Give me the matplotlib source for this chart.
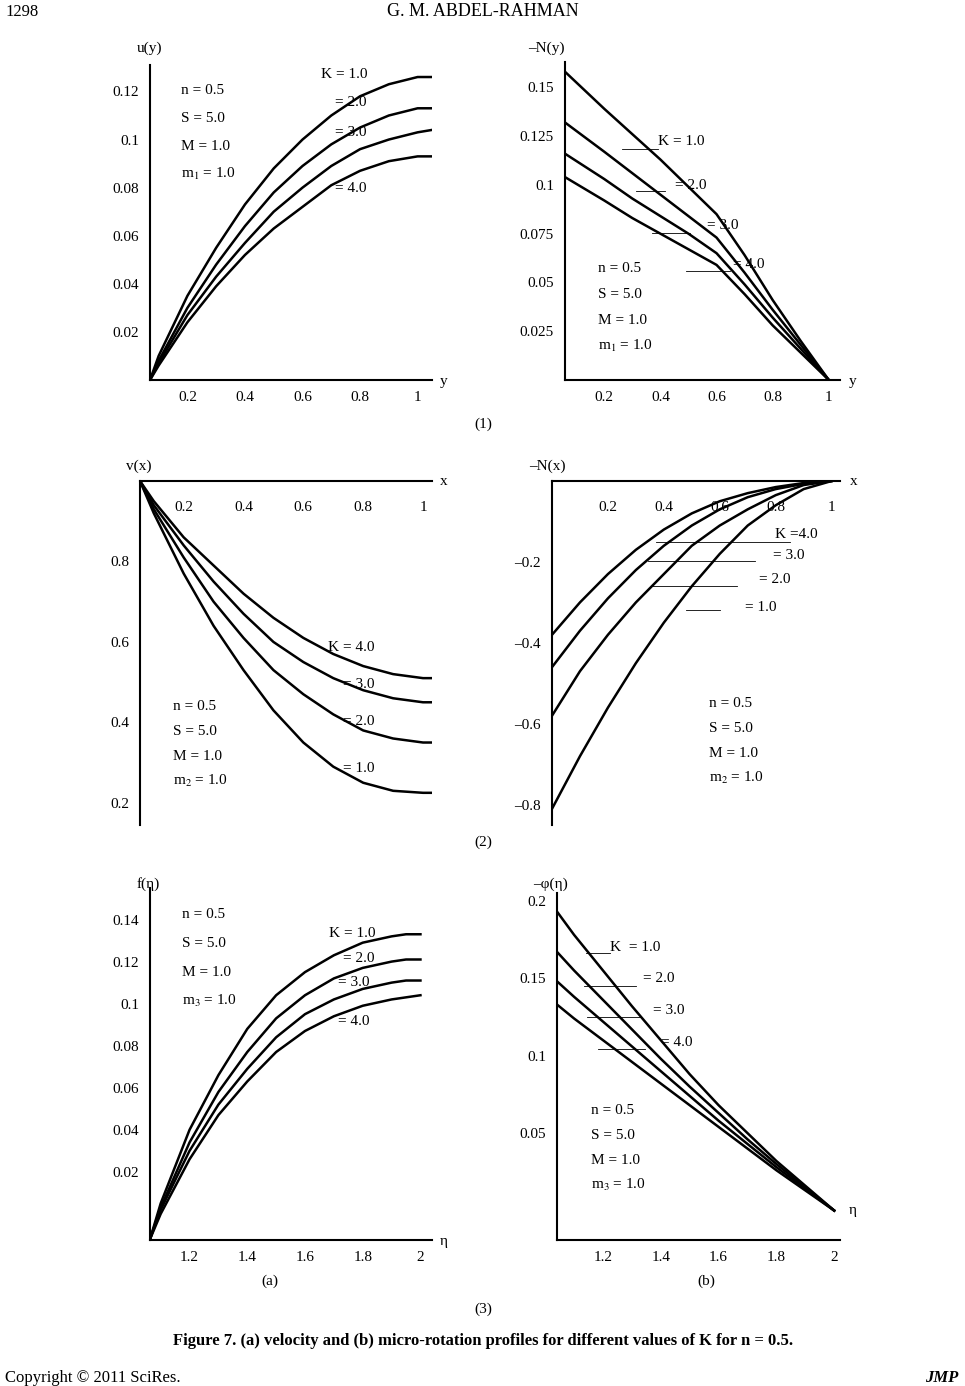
import numpy as np
import matplotlib
matplotlib.use("Agg")
import matplotlib.pyplot as plt
from matplotlib.lines import Line2D

plt.rcParams['font.family'] = ['Liberation Serif', 'DejaVu Serif']
plt.rcParams['mathtext.fontset'] = 'stix'

W, H = 965, 1386

# ---- data ----
x1a = [0.07, 0.1, 0.2, 0.3, 0.4, 0.5, 0.6, 0.7, 0.8, 0.9, 1.0, 1.05]
u_k = {
    "1": [0, 0.010, 0.035, 0.055, 0.073, 0.088, 0.100, 0.110, 0.118, 0.123, 0.126, 0.126],
    "2": [0, 0.008, 0.030, 0.048, 0.064, 0.078, 0.089, 0.098, 0.105, 0.110, 0.113, 0.113],
    "3": [0, 0.007, 0.027, 0.043, 0.057, 0.070, 0.080, 0.089, 0.096, 0.100, 0.103, 0.104],
    "4": [0, 0.006, 0.024, 0.039, 0.052, 0.063, 0.072, 0.081, 0.087, 0.091, 0.093, 0.093],
}
x1b = [0.06, 0.2, 0.3, 0.4, 0.5, 0.6, 0.7, 0.8, 0.9, 1.0]
Ny_k = {
    "1": [.158, .139, .126, .113, .099, .085, .064, .041, .020, 0],
    "2": [.132, .117, .106, .095, .084, .073, .055, .036, .018, 0],
    "3": [.116, .103, .093, .084, .075, .065, .049, .032, .016, 0],
    "4": [.104, .092, .083, .075, .067, .059, .044, .028, .014, 0],
}
x2a = [0.054, 0.1, 0.2, 0.3, 0.4, 0.5, 0.6, 0.7, 0.8, 0.9, 1.0, 1.03]
v_k = {
    "4": [1.0, 0.95, 0.86, 0.79, 0.72, 0.66, 0.61, 0.57, 0.54, 0.52, 0.51, 0.51],
    "3": [1.0, 0.94, 0.84, 0.75, 0.67, 0.60, 0.55, 0.51, 0.48, 0.46, 0.45, 0.45],
    "2": [1.0, 0.93, 0.81, 0.70, 0.61, 0.53, 0.47, 0.42, 0.38, 0.36, 0.35, 0.35],
    "1": [1.0, 0.92, 0.77, 0.64, 0.53, 0.43, 0.35, 0.29, 0.25, 0.23, 0.225, 0.225],
}
x2b = [0, 0.1, 0.2, 0.3, 0.4, 0.5, 0.6, 0.7, 0.8, 0.9, 1.0]
Nx_k = {
    "4": [-0.38, -0.30, -0.23, -0.17, -0.12, -0.08, -0.05, -0.03, -0.015, -0.005, 0],
    "3": [-0.46, -0.37, -0.29, -0.22, -0.16, -0.11, -0.07, -0.04, -0.02, -0.007, 0],
    "2": [-0.58, -0.47, -0.38, -0.30, -0.23, -0.16, -0.11, -0.07, -0.035, -0.01, 0],
    "1": [-0.81, -0.68, -0.56, -0.45, -0.35, -0.26, -0.18, -0.11, -0.06, -0.02, 0],
}
x3a = [1.063, 1.1, 1.2, 1.3, 1.4, 1.5, 1.6, 1.7, 1.8, 1.9, 1.95, 2.0]
f_k = {
    "1": [-0.012, 0.005, 0.040, 0.066, 0.088, 0.104, 0.115, 0.123, 0.129, 0.132, 0.133, 0.133],
    "2": [-0.012, 0.003, 0.034, 0.058, 0.077, 0.093, 0.104, 0.112, 0.117, 0.120, 0.121, 0.121],
    "3": [-0.012, 0.002, 0.030, 0.052, 0.069, 0.084, 0.095, 0.102, 0.107, 0.110, 0.111, 0.111],
    "4": [-0.012, 0.000, 0.026, 0.047, 0.063, 0.077, 0.087, 0.094, 0.099, 0.102, 0.103, 0.104],
}
x3b = [1.041, 1.1, 1.2, 1.3, 1.4, 1.5, 1.6, 1.7, 1.8, 1.9, 2.0]
phi_k = {
    "1": [.193, .178, .155, .132, .110, .088, .068, .050, .032, .016, 0.0],
    "2": [.167, .155, .136, .117, .098, .080, .063, .046, .030, .015, 0.0],
    "3": [.148, .138, .122, .106, .090, .074, .058, .043, .028, .014, 0.0],
    "4": [.133, .124, .110, .096, .082, .068, .054, .040, .026, .013, 0.0],
}

fig = plt.figure(figsize=(W / 100, H / 100), dpi=100)


def fx(x):
    return x / W


def fy(y):
    return 1 - y / H


def txt(x, y, s, **kw):
    kw.setdefault("fontsize", 11)
    fig.text(fx(x), fy(y), s, **kw)


def seg(x0, y0, x1, y1):
    fig.add_artist(Line2D([fx(x0), fx(x1)], [fy(y0), fy(y1)], color="black", lw=0.6))


def panel(l, t, r, b, xlim, ylim, xticks, xtl, yticks, ytl, top=False):
    ax = fig.add_axes([fx(l), fy(b), (r - l) / W, (b - t) / H])
    ax.set_xlim(xlim)
    ax.set_ylim(ylim)
    for s in ["right", "top" if not top else "bottom"]:
        ax.spines[s].set_visible(False)
    if top:
        ax.spines["top"].set_visible(True)
    for s in ax.spines.values():
        s.set_linewidth(1.5)
    ax.set_xticks(xticks)
    ax.set_xticklabels(xtl)
    ax.set_yticks(yticks)
    ax.set_yticklabels(ytl)
    ax.tick_params(length=0, labelsize=11, pad=8)
    if top:
        ax.tick_params(axis="x", top=True, labeltop=True, bottom=False,
                       labelbottom=False, pad=-24)
    return ax


params = ["n = 0.5", "S = 5.0", "M = 1.0"]

# ---- (1a) ----
ax = panel(150, 65, 432, 380, (0.07, 1.05), (0, 0.131),
           [0.2, 0.4, 0.6, 0.8, 1.0], ["0.2", "0.4", "0.6", "0.8", "1"],
           [0.02, 0.04, 0.06, 0.08, 0.1, 0.12], ["0.02", "0.04", "0.06", "0.08", "0.1", "0.12"])
for k in u_k:
    ax.plot(x1a, u_k[k], color="black", lw=1.8)
txt(137, 52, "u(y)")
txt(440, 385, "y")
for i, s in enumerate(params + ["m$_1$ = 1.0"]):
    txt(181, 94 + 28 * i, s)
txt(321, 78, "K = 1.0"); txt(335, 106, "= 2.0"); txt(335, 136, "= 3.0"); txt(335, 192, "= 4.0")

# ---- (1b) ----
ax = panel(565, 62, 840, 380, (0.06, 1.04), (0, 0.163),
           [0.2, 0.4, 0.6, 0.8, 1.0], ["0.2", "0.4", "0.6", "0.8", "1"],
           [0.025, 0.05, 0.075, 0.1, 0.125, 0.15], ["0.025", "0.05", "0.075", "0.1", "0.125", "0.15"])
for k in Ny_k:
    ax.plot(x1b, Ny_k[k], color="black", lw=1.8)
txt(528, 52, "–N(y)")
txt(849, 385, "y")
for i, s in enumerate(params + ["m$_1$ = 1.0"]):
    txt(598, 272 + 26 * i, s)
txt(658, 145, "K = 1.0"); seg(622, 149, 658, 149)
txt(675, 189, "= 2.0"); seg(636, 191, 665, 191)
txt(707, 229, "= 3.0"); seg(652, 233, 690, 233)
txt(733, 268, "= 4.0"); seg(686, 271, 730, 271)

# ---- (2a) ----
ax = panel(140, 481, 432, 825, (0.054, 1.03), (0.145, 1.0),
           [0.2, 0.4, 0.6, 0.8, 1.0], ["0.2", "0.4", "0.6", "0.8", "1"],
           [0.2, 0.4, 0.6, 0.8], ["0.2", "0.4", "0.6", "0.8"], top=True)
for k in v_k:
    ax.plot(x2a, v_k[k], color="black", lw=1.8)
txt(126, 470, "v(x)")
txt(440, 485, "x")
for i, s in enumerate(params + ["m$_2$ = 1.0"]):
    txt(173, 710 + 25 * i, s)
txt(328, 651, "K = 4.0"); txt(343, 688, "= 3.0"); txt(343, 725, "= 2.0"); txt(343, 772, "= 1.0")

# ---- (2b) ----
ax = panel(552, 481, 840, 825, (0, 1.03), (-0.85, 0),
           [0.2, 0.4, 0.6, 0.8, 1.0], ["0.2", "0.4", "0.6", "0.8", "1"],
           [-0.8, -0.6, -0.4, -0.2], ["–0.8", "–0.6", "–0.4", "–0.2"], top=True)
for k in Nx_k:
    ax.plot(x2b, Nx_k[k], color="black", lw=1.8)
txt(529, 470, "–N(x)")
txt(850, 485, "x")
for i, s in enumerate(params + ["m$_2$ = 1.0"]):
    txt(709, 707 + 25 * i, s)
txt(775, 538, "K =4.0"); seg(656, 542, 790, 542)
txt(773, 559, "= 3.0"); seg(648, 561, 755, 561)
txt(759, 583, "= 2.0"); seg(651, 586, 737, 586)
txt(745, 611, "= 1.0"); seg(686, 610, 720, 610)

# ---- (3a) ----
ax = panel(150, 888, 432, 1240, (1.063, 2.04), (-0.0124, 0.155),
           [1.2, 1.4, 1.6, 1.8, 2.0], ["1.2", "1.4", "1.6", "1.8", "2"],
           [0.02, 0.04, 0.06, 0.08, 0.1, 0.12, 0.14],
           ["0.02", "0.04", "0.06", "0.08", "0.1", "0.12", "0.14"])
for k in f_k:
    ax.plot(x3a, f_k[k], color="black", lw=1.8)
txt(137, 888, "f(η)")
txt(440, 1245, "η")
for i, s in enumerate(params + ["m$_3$ = 1.0"]):
    txt(182, 918 + 29 * i, s)
txt(329, 937, "K = 1.0"); txt(343, 962, "= 2.0"); txt(338, 986, "= 3.0"); txt(338, 1025, "= 4.0")

# ---- (3b) ----
ax = panel(557, 893, 840, 1240, (1.041, 2.02), (-0.019, 0.205),
           [1.2, 1.4, 1.6, 1.8, 2.0], ["1.2", "1.4", "1.6", "1.8", "2"],
           [0.05, 0.1, 0.15, 0.2], ["0.05", "0.1", "0.15", "0.2"])
for k in phi_k:
    ax.plot(x3b, phi_k[k], color="black", lw=1.8)
txt(533, 888, "–φ(η)")
txt(849, 1214, "η")
for i, s in enumerate(params + ["m$_3$ = 1.0"]):
    txt(591, 1114 + 25 * i, s)
txt(610, 951, "K  = 1.0"); seg(586, 953, 610, 953)
txt(643, 982, "= 2.0"); seg(584, 986, 636, 986)
txt(653, 1014, "= 3.0"); seg(587, 1017, 640, 1017)
txt(661, 1046, "= 4.0"); seg(598, 1049, 645, 1049)

# ---- page text ----
txt(5, 16, "1298", fontsize=12)
txt(483, 16, "G. M. ABDEL-RAHMAN", fontsize=13, ha="center")
txt(483, 428, "(1)", ha="center")
txt(483, 846, "(2)", ha="center")
txt(270, 1285, "(a)", ha="center")
txt(706, 1285, "(b)", ha="center")
txt(483, 1313, "(3)", ha="center")
txt(483, 1345, "Figure 7. (a) velocity and (b) micro-rotation profiles for different values of K for n = 0.5.",
    ha="center", fontsize=12, weight="bold")
txt(5, 1382, "Copyright © 2011 SciRes.", fontsize=12)
txt(958, 1382, "JMP", fontsize=12, weight="bold", style="italic", ha="right")

fig.savefig("out.png", dpi=100)
